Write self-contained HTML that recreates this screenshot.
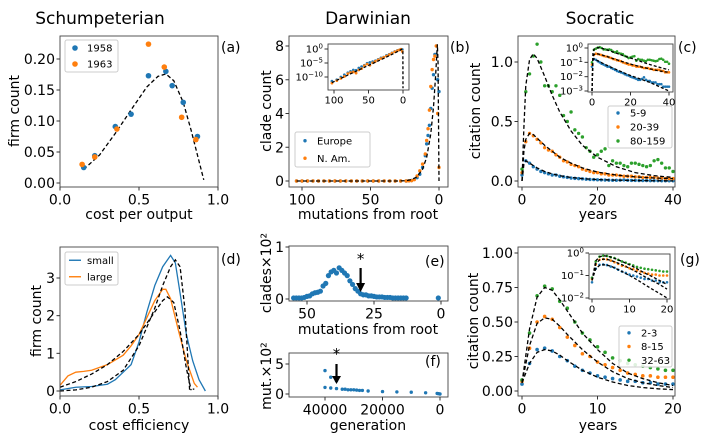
<!DOCTYPE html>
<html><head><meta charset="utf-8">
<style>
body{margin:0;background:#fff;}
svg{display:block;font-family:"DejaVu Sans","Liberation Sans",sans-serif;}
</style></head>
<body>
<svg id="fig" width="706" height="439" viewBox="0 0 706 439"></svg>
<script>
// ---------- data ----------
const aBlueX=[0.15,0.22,0.35,0.45,0.56,0.67,0.71,0.78,0.87];
const aBlueY=[0.025,0.044,0.091,0.111,0.173,0.18,0.157,0.130,0.075];
const aOrX=[0.14,0.22,0.36,0.56,0.66,0.77,0.86];
const aOrY=[0.03,0.042,0.087,0.224,0.187,0.106,0.070];
const aFitX=[0.15,0.25,0.35,0.45,0.55,0.62,0.67,0.72,0.78,0.83,0.87,0.91];
const aFitY=[0.022,0.045,0.08,0.118,0.155,0.172,0.176,0.165,0.13,0.085,0.045,0.005];

const bX=[104,100,96,92,88,84,80,76,72,68,64,60,56,52,48,44,40,36,32,28,24,22,20,18,16,14,12,10,9,8,7,6,5,4,3,2,1,0];
const bEu=[0,0,0,0,0,0,0,0,0,0,0,0,0,0,0,0,0,0,0,0,0,0.01,0.03,0.1,0.2,0.4,0.8,1.5,2.2,2.7,3.3,4.3,5.5,6.3,7.5,7.5,6,5.3];
const bNa=[0,0,0,0,0,0,0,0,0,0,0,0,0,0,0,0,0,0,0,0,0,0.01,0.02,0.08,0.3,0.6,1.0,1.6,2.4,3.1,4.2,5.6,6.6,7.2,7.4,8.0,4.0,0.8];
const bFitX=[104,60,30,24,20,16,12,9,6,4,2.5,1.2,0.7,0.3,0];
const bFitY=[0,0,0,0.02,0.08,0.25,0.7,1.4,2.8,4.4,6.2,8.1,7.0,3.0,0];
const biX=[103,96,90,85,80,76,72,68,64,60,56,52,48,44,40,36,32,28,24,20,16,12,8,5,3,1];
const biEu=[-11.5,-11,-10,-9.2,-8.5,-8,-7.5,-7.6,-6.8,-6.3,-5.8,-5.1,-4.8,-4.5,-4.2,-3.7,-3.2,-2.9,-2.3,-1.9,-1.4,-0.9,-0.5,-0.3,-0.1,-0.2];
const biNa=[-12.2,-11.3,-10.5,-9.8,-8.8,-8.4,-8.2,-8.6,-7.5,-7.0,-6.0,-5.4,-5.8,-4.9,-4.4,-3.9,-3.4,-3.0,-2.5,-2.0,-1.5,-1.0,-0.6,-0.3,-0.1,-0.9];
const biFitX=[103,60,30,10,2,0.2,0];
const biFitY=[-12,-7,-3.6,-1.2,-0.1,-0.3,-14];

const cYears=[0,1,2,3,4,5,6,7,8,9,10,11,12,13,14,15,16,17,18,19,20,21,22,23,24,25,26,27,28,29,30,31,32,33,34,35,36,37,38,39,40];
const cGreen=[0.1,0.75,0.9,1.05,1.15,1.0,0.8,0.8,0.75,0.8,0.72,0.55,0.5,0.58,0.43,0.4,0.37,0.28,0.25,0.2,0.22,0.25,0.27,0.13,0.17,0.15,0.15,0.13,0.12,0.15,0.15,0.14,0.13,0.12,0.13,0.17,0.18,0.15,0.11,0.11,0.08];
const cOrange=[0.07,0.33,0.4,0.38,0.35,0.32,0.28,0.26,0.25,0.22,0.2,0.17,0.16,0.14,0.13,0.12,0.1,0.09,0.08,0.07,0.07,0.06,0.06,0.05,0.05,0.05,0.045,0.04,0.04,0.04,0.035,0.035,0.03,0.03,0.03,0.03,0.025,0.025,0.02,0.02,0.02];
const cBlue=[0.05,0.17,0.15,0.12,0.1,0.08,0.07,0.06,0.05,0.05,0.04,0.035,0.03,0.025,0.022,0.02,0.018,0.015,0.013,0.012,0.01,0.009,0.008,0.007,0.006,0.006,0.007,0.009,0.006,0.005,0.005,0.004,0.004,0.004,0.003,0.003,0.003,0.002,0.002,0.002,0.002];
const cFitX=[0,0.5,1,2,3,4,6,8,10,13,16,20,25,30,35,40];
const cFitG=[0.001,0.45,0.8,1.02,1.07,1.03,0.88,0.72,0.58,0.42,0.3,0.2,0.12,0.07,0.045,0.03];
const cFitO=[0.001,0.25,0.35,0.4,0.39,0.36,0.3,0.25,0.2,0.15,0.11,0.075,0.05,0.035,0.025,0.02];
const cFitB=[0.001,0.14,0.17,0.15,0.13,0.11,0.08,0.06,0.045,0.03,0.02,0.012,0.007,0.004,0.002,0.001];

const dSmallX=[0,0.1,0.2,0.3,0.35,0.4,0.45,0.5,0.55,0.6,0.65,0.7,0.73,0.76,0.8,0.84,0.88,0.92];
const dSmallY=[0.03,0.1,0.12,0.18,0.3,0.5,0.7,1.3,2.1,2.8,3.3,3.6,3.4,2.6,1.5,0.8,0.3,0.0];
const dLargeX=[0,0.05,0.1,0.15,0.2,0.3,0.4,0.45,0.5,0.55,0.6,0.65,0.67,0.7,0.75,0.8,0.85,0.87];
const dLargeY=[0.15,0.4,0.5,0.52,0.55,0.7,0.95,1.2,1.5,1.95,2.4,2.7,2.7,2.45,1.6,0.8,0.2,0.1];
const dFit1X=[0,0.1,0.2,0.3,0.4,0.5,0.6,0.65,0.7,0.73,0.76,0.79,0.81,0.82,0.85];
const dFit1Y=[0,0.03,0.1,0.25,0.55,1.2,2.2,2.8,3.3,3.48,3.3,2.2,0.8,0.05,0.05];
const dFit2X=[0,0.1,0.2,0.3,0.4,0.5,0.6,0.65,0.68,0.72,0.76,0.8,0.83];
const dFit2Y=[0.1,0.25,0.45,0.7,1.05,1.5,2.1,2.4,2.5,2.35,1.6,0.6,0.02];

const eX=[55,54,53,52,51,50,49,48,47,46,45,44,43,42,41,40,39,38,37,36,35,34,33,32,31,30,29,28,27,26,25,24,23,22,21,20,19,18,17,16,15,14,13,1];
const eY=[0.02,0.02,0.02,0.02,0.03,0.05,0.06,0.1,0.12,0.13,0.15,0.25,0.3,0.45,0.52,0.55,0.5,0.6,0.55,0.5,0.45,0.35,0.28,0.2,0.15,0.1,0.08,0.08,0.06,0.06,0.05,0.04,0.04,0.04,0.03,0.03,0.03,0.02,0.02,0.02,0.02,0.02,0.02,0.02];
const fX=[50000,40000,40000,38000,38000,36000,36000,34000,33000,32000,31000,30000,29000,28000,27000,25000,20000,15000,10000,5000,1000,500,0];
const fY=[7.8,3.9,1.1,2.8,1.0,0.9,2.2,0.8,0.8,0.7,0.7,0.7,0.65,0.6,0.6,0.5,0.4,0.35,0.3,0.2,0.1,0.05,0];

const gYears=[0,1,2,3,4,5,6,7,8,9,10,11,12,13,14,15,16,17,18,19,20];
const gGreen=[0.08,0.42,0.69,0.76,0.74,0.65,0.6,0.5,0.42,0.37,0.32,0.28,0.24,0.22,0.2,0.19,0.18,0.17,0.16,0.15,0.15];
const gOrange=[0.07,0.31,0.5,0.54,0.52,0.46,0.39,0.33,0.27,0.25,0.21,0.19,0.17,0.15,0.13,0.12,0.11,0.11,0.1,0.1,0.1];
const gBlue=[0.05,0.2,0.3,0.31,0.29,0.25,0.22,0.18,0.15,0.13,0.11,0.1,0.09,0.08,0.07,0.07,0.06,0.06,0.05,0.05,0.05];
const gFitX=[0,1,2,3,4,5,6,8,10,12,14,16,18,20];
const gFitG=[0.06,0.45,0.68,0.75,0.73,0.66,0.58,0.42,0.3,0.2,0.13,0.09,0.06,0.04];
const gFitO=[0.06,0.33,0.49,0.53,0.52,0.47,0.41,0.3,0.21,0.14,0.09,0.06,0.04,0.025];
const gFitB=[0.06,0.2,0.28,0.3,0.29,0.26,0.22,0.15,0.1,0.065,0.04,0.025,0.016,0.01];

// ---------- helpers ----------
const NS='http://www.w3.org/2000/svg';
const fig=document.getElementById('fig');
const BL='#1f77b4',OR='#ff7f0e',GR='#2ca02c';
function mk(tag,attrs,parent){const e=document.createElementNS(NS,tag);for(const k in attrs)e.setAttribute(k,attrs[k]);(parent||fig).appendChild(e);return e;}
function txt(s,x,y,size,parent,anchor,rot){const t=mk('text',{x:x,y:y,'font-size':size,'text-anchor':anchor||'middle',fill:'#000'},parent);if(rot)t.setAttribute('transform','rotate(-90 '+x+' '+y+')');t.textContent=s;return t;}
function lin(d0,d1,r0,r1){return v=>r0+(v-d0)*(r1-r0)/(d1-d0);}
function logs(d0,d1,r0,r1){return v=>r0+(Math.log10(Math.max(v,1e-9))-d0)*(r1-r0)/(d1-d0);}
function axes(name,x0,y0,x1,y1){const g=mk('g',{});
 const cp='cp'+name;const c=mk('clipPath',{id:cp},g);mk('rect',{x:x0,y:y0,width:x1-x0,height:y1-y0},c);
 const inner=mk('g',{'clip-path':'url(#'+cp+')'},g);return {g:g,inner:inner,x0:x0,y0:y0,x1:x1,y1:y1};}
function frame(A){const r=mk('rect',{x:A.x0,y:A.y0,width:A.x1-A.x0,height:A.y1-A.y0,fill:'none',stroke:'#444','stroke-width':0.9},A.g);}
function xticks(A,sx,vals,labels,size){vals.forEach((v,i)=>{const x=sx(v);mk('line',{x1:x,x2:x,y1:A.y1,y2:A.y1+3.5,stroke:'#333'},A.g);const t=txt(labels[i],x,A.y1+4+size*0.95,size,A.g);});}
function yticks(A,sy,vals,labels,size,sup){vals.forEach((v,i)=>{const y=sy(v);mk('line',{x1:A.x0-3.5,x2:A.x0,y1:y,y2:y,stroke:'#333'},A.g);
 let t;if(sup){t=mk('text',{x:A.x0-5,y:y+size*0.35,'font-size':size,'text-anchor':'end'},A.g);t.appendChild(document.createTextNode('10'));const ts=mk('tspan',{dy:-size*0.4,'font-size':size*0.7},t);ts.textContent=labels[i];}
 else t=txt(labels[i],A.x0-5,y+size*0.36,size,A.g,'end');
 });}
function dots(A,sx,sy,X,Y,col,r,name){X.forEach((x,i)=>{const c=mk('circle',{cx:sx(x),cy:sy(Y[i]),r:r,fill:col},A.inner);});}
function line(A,sx,sy,X,Y,col,dash,name,w){const d=X.map((x,i)=>(i?'L':'M')+sx(x).toFixed(2)+' '+sy(Y[i]).toFixed(2)).join('');const p=mk('path',{d:d,fill:'none',stroke:col,'stroke-width':w||1.3},A.inner);if(dash)p.setAttribute('stroke-dasharray',dash);}
function legend(name,x,y,w,h,entries,type,size){const g=mk('g',{});
 mk('rect',{x:x,y:y,width:w,height:h,rx:2,fill:'#fff','fill-opacity':0.85,stroke:'#ccc'},g);
 const step=h/entries.length;entries.forEach((e,i)=>{const cy=y+step*(i+0.5);
  if(type==='line')mk('line',{x1:x+4,x2:x+16,y1:cy,y2:cy,stroke:e[1],'stroke-width':1.4},g);else mk('circle',{cx:x+10,cy:cy,r:type==='big'?2.8:1.7,fill:e[1]},g);
  const t=txt(e[0],x+22,cy+size*0.36,size,g,'start');});}
function label(s,x,y,size,name,rot,anchor){const t=txt(s,x,y,size,fig,anchor||'middle',rot);return t;}

// titles
label('Schumpeterian',100,24,17,'title-schumpeterian');
label('Darwinian',368,24,17,'title-darwinian');
label('Socratic',600,24,17,'title-socratic');

// ---------- (a) ----------
{const A=axes('panel-a',60,36,218,187);const sx=lin(0,1,60,218),sy=lin(0,0.2,183,59);
 line(A,sx,sy,aFitX,aFitY,'#000','4 2.5','fit-curve');
 dots(A,sx,sy,aBlueX,aBlueY,BL,2.8,'point-1958');dots(A,sx,sy,aOrX,aOrY,OR,2.8,'point-1963');
 frame(A);xticks(A,sx,[0,0.5,1],['0.0','0.5','1.0'],14);yticks(A,sy,[0,0.05,0.1,0.15,0.2],['0.00','0.05','0.10','0.15','0.20'],14);
 legend('legend-a',65,40,53,32,[['1958',BL],['1963',OR]],'big',10);
 label('firm count',19,111,14,'y-axis-title',true);label('cost per output',139,219,14,'x-axis-title');label('(a)',221,52,14,'panel-label-a',false,'start');}

// ---------- (b) ----------
{const A=axes('panel-b',289,36,448,187);const sx=lin(100,0,302,439),sy=lin(0,8,181,46);
 dots(A,sx,sy,bX,bEu,BL,1.7,'point-europe');dots(A,sx,sy,bX,bNa,OR,1.7,'point-namerica');
 line(A,sx,sy,bFitX,bFitY,'#000','4 2.5','fit-curve');
 frame(A);xticks(A,sx,[100,50,0],['100','50','0'],14);yticks(A,sy,[0,2,4,6,8],['0','2','4','6','8'],14);
 legend('legend-b',295,132,75,35,[['Europe',BL],['N. Am.',OR]],'small',10);
 label('clade count',271,111,14,'y-axis-title',true);label('mutations from root',368,219,14,'x-axis-title');label('(b)',450,52,14,'panel-label-b',false,'start');
 const I=axes('inset-b',328,44,409,90);mk('rect',{x:328,y:44,width:81,height:46,fill:'#fff'},I.inner);
 const ix=lin(100,0,334,403),iy=lin(0,-10,49,77);
 dots(I,ix,iy,biX,biEu,BL,1.4,'inset-point-europe');dots(I,ix,iy,biX,biNa,OR,1.4,'inset-point-namerica');
 line(I,ix,iy,biFitX,biFitY,'#000','3 2','inset-fit-curve');
 frame(I);xticks(I,ix,[100,50,0],['100','50','0'],10);yticks(I,iy,[0,-5,-10],['0','−5','−10'],10,true);}

// ---------- (c) ----------
{const A=axes('panel-c',518,36,675,187);const sx=lin(0,40,522,673),sy=lin(0,1,181,62);
 dots(A,sx,sy,cYears,cBlue,BL,1.7,'point-5-9');dots(A,sx,sy,cYears,cOrange,OR,1.7,'point-20-39');dots(A,sx,sy,cYears,cGreen,GR,1.7,'point-80-159');
 line(A,sx,sy,cFitX,cFitG,'#000','4 2.5','fit-80-159');line(A,sx,sy,cFitX,cFitO,'#000','4 2.5','fit-20-39');line(A,sx,sy,cFitX,cFitB,'#000','4 2.5','fit-5-9');
 frame(A);xticks(A,sx,[0,20,40],['0','20','40'],14);yticks(A,sy,[0,0.5,1],['0.0','0.5','1.0'],14);
 legend('legend-c',608,106,64,42,[['5-9',BL],['20-39',OR],['80-159',GR]],'small',10);
 label('citation count',480,111,14,'y-axis-title',true);label('years',598,219,14,'x-axis-title');label('(c)',678,52,14,'panel-label-c',false,'start');
 const I=axes('inset-c',588,44,673,92);mk('rect',{x:588,y:44,width:85,height:48,fill:'#fff'},I.inner);
 const ix=lin(0,40,592,669),iy=logs(0,-3,48,91);
 dots(I,ix,iy,cYears,cBlue,BL,1.3,'inset-point-5-9');dots(I,ix,iy,cYears,cOrange,OR,1.3,'inset-point-20-39');dots(I,ix,iy,cYears,cGreen,GR,1.3,'inset-point-80-159');
 line(I,ix,iy,cFitX,cFitG,'#000','3 2','inset-fit');line(I,ix,iy,cFitX,cFitO,'#000','3 2','inset-fit');line(I,ix,iy,cFitX,cFitB,'#000','3 2','inset-fit');
 frame(I);xticks(I,ix,[0,20,40],['0','20','40'],10);yticks(I,iy,[1,0.1,0.01,0.001],['0','−1','−2','−3'],10,true);}

// ---------- (d) ----------
{const A=axes('panel-d',60,247,218,396);const sx=lin(0,1,60,218),sy=lin(0,3,391,278);
 line(A,sx,sy,dSmallX,dSmallY,BL,null,'line-small');line(A,sx,sy,dLargeX,dLargeY,OR,null,'line-large');
 line(A,sx,sy,dFit1X,dFit1Y,'#000','4 2.5','fit-small');line(A,sx,sy,dFit2X,dFit2Y,'#000','4 2.5','fit-large');
 frame(A);xticks(A,sx,[0,0.5,1],['0.0','0.5','1.0'],14);yticks(A,sy,[0,1,2,3],['0','1','2','3'],14);
 legend('legend-d',65,252,53,33,[['small',BL],['large',OR]],'line',10);
 label('firm count',41,321,14,'y-axis-title',true);label('cost efficiency',139,430,14,'x-axis-title');label('(d)',221,264,14,'panel-label-d',false,'start');}

// ---------- (e) ----------
{const A=axes('panel-e',289,246,448,301);const sx=lin(50,0,307,441),sy=lin(0,1,299,247);
 dots(A,sx,sy,eX,eY,BL,2.6,'point-clades');
 frame(A);xticks(A,sx,[50,25,0],['50','25','0'],14);yticks(A,sy,[0,1],['0','1'],14);
 mk('line',{x1:sx(30),x2:sx(30),y1:268,y2:285,stroke:'#000','stroke-width':2.2},A.g);mk('path',{d:'M'+(sx(30)-4.5)+' 283 L'+(sx(30)+4.5)+' 283 L'+sx(30)+' 292Z',fill:'#000'},A.g);
 label('*',sx(30),264,15,'annotation-star');
 label('clades×10²',271,273,14,'y-axis-title',true);label('mutations from root',368,334,14,'x-axis-title');label('(e)',425,266,14,'panel-label-e',false,'start');}

// ---------- (f) ----------
{const A=axes('panel-f',289,353,448,397);const sx=lin(40000,0,325,440),sy=lin(0,5,394,364);
 dots(A,sx,sy,fX,fY,BL,1.7,'point-mutations');
 frame(A);xticks(A,sx,[40000,20000,0],['40000','20000','0'],14);yticks(A,sy,[0,5],['0','5'],14);
 mk('line',{x1:sx(36000),x2:sx(36000),y1:364,y2:378,stroke:'#000','stroke-width':2.2},A.g);mk('path',{d:'M'+(sx(36000)-4.5)+' 376 L'+(sx(36000)+4.5)+' 376 L'+sx(36000)+' 384Z',fill:'#000'},A.g);
 label('*',sx(36000),359,15,'annotation-star');
 label('mut.×10²',271,376,14,'y-axis-title',true);label('generation',368,430,14,'x-axis-title');label('(f)',425,366,14,'panel-label-f',false,'start');}

// ---------- (g) ----------
{const A=axes('panel-g',518,247,675,396);const sx=lin(0,20,522,673),sy=lin(0,1,391,253);
 dots(A,sx,sy,gYears,gBlue,BL,1.8,'point-2-3');dots(A,sx,sy,gYears,gOrange,OR,1.8,'point-8-15');dots(A,sx,sy,gYears,gGreen,GR,1.8,'point-32-63');
 line(A,sx,sy,gFitX,gFitG,'#000','4 2.5','fit-32-63');line(A,sx,sy,gFitX,gFitO,'#000','4 2.5','fit-8-15');line(A,sx,sy,gFitX,gFitB,'#000','4 2.5','fit-2-3');
 frame(A);xticks(A,sx,[0,10,20],['0','10','20'],14);yticks(A,sy,[0,0.25,0.5,0.75,1],['0.00','0.25','0.50','0.75','1.00'],14);
 legend('legend-g',619,326,53,41,[['2-3',BL],['8-15',OR],['32-63',GR]],'small',10);
 label('citation count',478,321,14,'y-axis-title',true);label('years',598,430,14,'x-axis-title');label('(g)',680,264,14,'panel-label-g',false,'start');
 const I=axes('inset-g',589,254,670,299);mk('rect',{x:589,y:254,width:81,height:45,fill:'#fff'},I.inner);
 const ix=lin(0,20,592,667),iy=logs(0,-2,253,298);
 dots(I,ix,iy,gYears,gBlue,BL,1.3,'inset-point-2-3');dots(I,ix,iy,gYears,gOrange,OR,1.3,'inset-point-8-15');dots(I,ix,iy,gYears,gGreen,GR,1.3,'inset-point-32-63');
 line(I,ix,iy,gFitX,gFitG,'#000','3 2','inset-fit');line(I,ix,iy,gFitX,gFitO,'#000','3 2','inset-fit');line(I,ix,iy,gFitX,gFitB,'#000','3 2','inset-fit');
 frame(I);xticks(I,ix,[0,10,20],['0','10','20'],10);yticks(I,iy,[1,0.1,0.01],['0','−1','−2'],10,true);}
</script>
</body></html>
